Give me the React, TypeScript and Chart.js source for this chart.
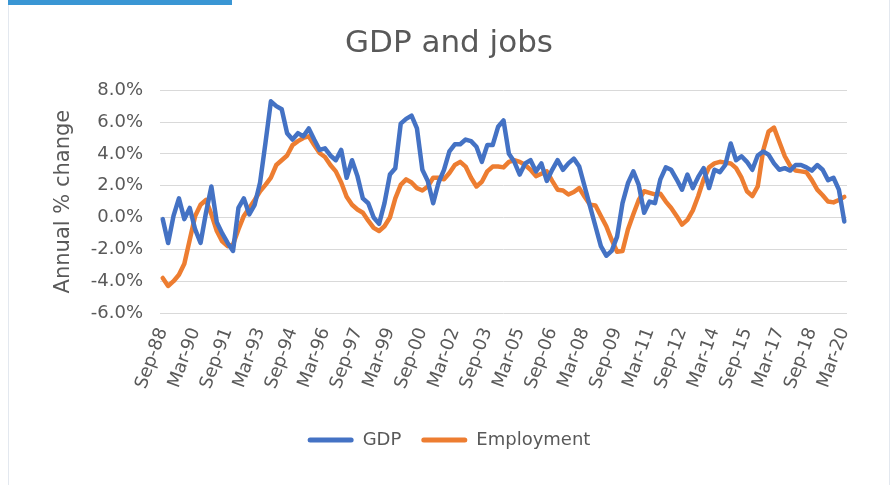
import React, { useEffect, useRef } from "react";
import { Chart, registerables } from "chart.js";

Chart.register(...registerables);

// Quarterly categories Sep-88 .. Mar-20
const QUARTER_MONTHS = ["Mar", "Jun", "Sep", "Dec"];
const CATEGORIES: string[] = (() => {
  const out: string[] = [];
  let q = 2; // Sep
  let y = 1988;
  for (let i = 0; i < 127; i++) {
    out.push(QUARTER_MONTHS[q] + "-" + String(y % 100).padStart(2, "0"));
    q++;
    if (q > 3) { q = 0; y++; }
  }
  return out;
})();

const GDP: number[] = [
  -0.1, -1.6, 0.1, 1.2, -0.1, 0.6, -0.75, -1.6, 0.3, 1.95,
  -0.3, -1.0, -1.6, -2.1, 0.6, 1.2, 0.2, 0.8, 2.2, 4.7,
  7.3, 7.0, 6.8, 5.3, 4.9, 5.3, 5.1, 5.6, 4.9, 4.25,
  4.35, 3.9, 3.6, 4.25, 2.5, 3.6, 2.6, 1.2, 0.9, 0.0,
  -0.4, 0.9, 2.7, 3.1, 5.9, 6.2, 6.4, 5.6, 3.0, 2.3,
  0.9, 2.2, 3.0, 4.15, 4.6, 4.6, 4.9, 4.8, 4.45, 3.5,
  4.55, 4.55, 5.7, 6.1, 4.0, 3.5, 2.7, 3.4, 3.6, 2.9,
  3.4, 2.3, 3.0, 3.6, 3.0, 3.4, 3.7, 3.2, 1.95, 0.7,
  -0.55, -1.8, -2.4, -2.1, -1.2, 0.9, 2.15, 2.9, 2.05, 0.3,
  1.0, 0.9, 2.4, 3.15, 3.0, 2.4, 1.75, 2.7, 1.85, 2.55,
  3.1, 1.85, 3.0, 2.85, 3.3, 4.65, 3.6, 3.85, 3.5, 3.0,
  3.9, 4.15, 3.95, 3.4, 3.0, 3.1, 2.95, 3.3, 3.3, 3.15,
  2.95, 3.3, 3.0, 2.35, 2.5, 1.75, -0.25,
];

const EMPLOYMENT: number[] = [
  -3.8, -4.3, -4.0, -3.6, -2.9, -1.4, 0.1, 0.8, 1.1, 0.2,
  -0.85, -1.5, -1.8, -1.7, -0.75, 0.1, 0.6, 1.1, 1.65, 2.05,
  2.5, 3.3, 3.6, 3.9, 4.55, 4.8, 5.0, 5.1, 4.55, 4.05,
  3.8, 3.3, 2.9, 2.2, 1.3, 0.8, 0.5, 0.3, -0.2, -0.65,
  -0.85, -0.55, 0.0, 1.2, 2.05, 2.4, 2.2, 1.85, 1.7, 1.95,
  2.5, 2.5, 2.4, 2.8, 3.3, 3.5, 3.2, 2.5, 1.95, 2.25,
  2.9, 3.2, 3.2, 3.15, 3.5, 3.6, 3.5, 3.3, 3.0, 2.6,
  2.75, 2.9, 2.3, 1.75, 1.7, 1.45, 1.6, 1.85, 1.3, 0.8,
  0.75, 0.1, -0.55, -1.4, -2.15, -2.1, -0.75, 0.2, 1.1, 1.65,
  1.55, 1.45, 1.5, 1.0, 0.6, 0.1, -0.45, -0.15, 0.45, 1.35,
  2.4, 3.15, 3.4, 3.5, 3.45, 3.4, 3.1, 2.5, 1.65, 1.35,
  1.95, 4.2, 5.4, 5.65, 4.75, 3.85, 3.25, 2.95, 2.9, 2.85,
  2.35, 1.75, 1.4, 1.0, 0.95, 1.1, 1.3,
];

const TICK_EVERY = 6;
const Y_MIN = -6;
const Y_MAX = 8;
const Y_STEP = 2;

const TITLE = "GDP and jobs";
const Y_TITLE = "Annual % change";
const SERIES_NAMES = ["GDP", "Employment"];
const COLORS = ["#4472C4", "#ED7D31"];

const FONT = "'DejaVu Sans', sans-serif";
const TEXT = "#595959";

export default function App() {
  const ref = useRef<HTMLCanvasElement | null>(null);

  useEffect(() => {
    if (!ref.current) return;
    const chart = new Chart(ref.current, {
      type: "line",
      data: {
        labels: CATEGORIES,
        datasets: [
          {
            label: SERIES_NAMES[0],
            data: GDP,
            borderColor: COLORS[0],
            backgroundColor: COLORS[0],
            borderWidth: 4.5,
            pointRadius: 0,
            tension: 0,
            borderJoinStyle: "round",
            borderCapStyle: "round",
          },
          {
            label: SERIES_NAMES[1],
            data: EMPLOYMENT,
            borderColor: COLORS[1],
            backgroundColor: COLORS[1],
            borderWidth: 4.5,
            pointRadius: 0,
            tension: 0,
            borderJoinStyle: "round",
            borderCapStyle: "round",
          },
        ],
      },
      options: {
        animation: false,
        responsive: false,
        layout: { padding: { left: 51, right: 46, top: 0, bottom: 26 } },
        plugins: {
          tooltip: { enabled: false },
          title: {
            display: true,
            text: TITLE,
            color: TEXT,
            font: { family: FONT, size: 31, weight: "normal" },
            padding: { top: 25, bottom: 28 },
          },
          legend: {
            position: "bottom",
            labels: {
              color: TEXT,
              font: { family: FONT, size: 18 },
              boxWidth: 46,
              boxHeight: 5,
              padding: 20,
              generateLabels: (c: any) => {
                const items = Chart.defaults.plugins.legend.labels.generateLabels(c);
                return items.map((it: any) => ({
                  ...it,
                  lineWidth: 0,
                  fillStyle: it.strokeStyle,
                  borderRadius: 2.5,
                }));
              },
            },
          },
        },
        scales: {
          x: {
            type: "category",
            offset: true,
            grid: { display: false, drawTicks: false },
            border: { display: false },
            ticks: {
              autoSkip: false,
              minRotation: 70,
              maxRotation: 70,
              padding: 12,
              color: TEXT,
              font: { family: FONT, size: 18 },
              callback: (_v: any, i: number) => (i % TICK_EVERY === 0 ? CATEGORIES[i] : null),
            },
            afterFit: (s: any) => { s.height = 98; },
          },
          y: {
            min: Y_MIN,
            max: Y_MAX,
            grid: { color: "#d9d9d9", lineWidth: 1, drawTicks: false },
            border: { display: false },
            ticks: {
              stepSize: Y_STEP,
              padding: 17,
              color: TEXT,
              font: { family: FONT, size: 18 },
              callback: (v: any) => Number(v).toFixed(1) + "%",
            },
            title: {
              display: true,
              text: Y_TITLE,
              color: TEXT,
              font: { family: FONT, size: 21 },
              padding: { top: 0, bottom: 0 },
            },
            afterFit: (s: any) => { s.width = 109; },
          },
        },
      },
    });
    return () => chart.destroy();
  }, []);

  return (
    <div style={{ position: "fixed", left: 0, top: 0, width: 893, height: 485, background: "#fff" }}>
      <div style={{ position: "absolute", left: 8, top: 0, width: 1, height: 485, background: "#e3e8ef" }} />
      <div style={{ position: "absolute", left: 889, top: 0, width: 1, height: 485, background: "#e3e8ef" }} />
      <div style={{ position: "absolute", left: 8, top: 0, width: 224, height: 5, background: "#3a96d4" }} />
      <canvas ref={ref} width={893} height={485} style={{ position: "absolute", left: 0, top: 0 }} />
    </div>
  );
}
